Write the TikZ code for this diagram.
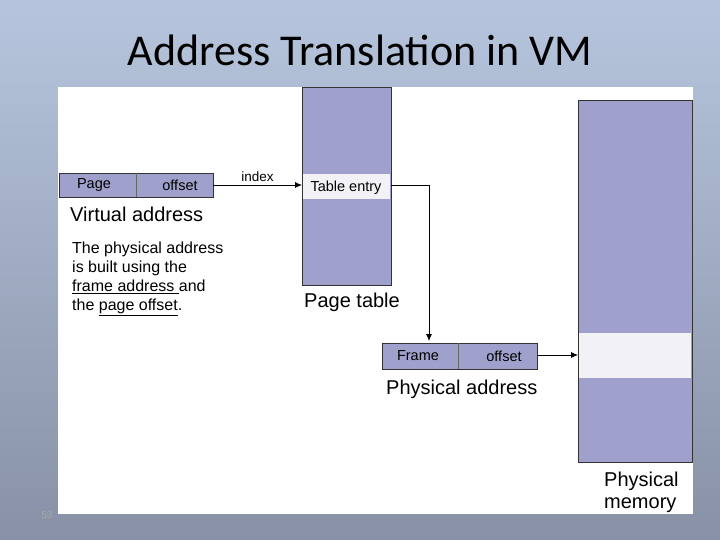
\documentclass[tikz,border=0pt]{standalone}
\usepackage{fontspec}
\setmainfont{Liberation Sans}
\newfontfamily\titlefont{Carlito}
\usepackage{tikz}
\usetikzlibrary{arrows.meta}
\definecolor{boxblue}{HTML}{A0A0CC}
\definecolor{bandwhite}{HTML}{F2F2F6}

\begin{document}
\begin{tikzpicture}[x=1pt,y=-1pt,
    field/.style={draw=black!80,fill=boxblue,line width=0.8pt},
    band/.style={fill=bandwhite},
    lbl/.style={inner sep=0pt,font=\fontsize{14.5}{14.5}\selectfont},
    caption/.style={inner sep=0pt,anchor=west,font=\fontsize{20}{20}\selectfont},
    arr/.style={draw,line width=0.8pt,-{Latex[length=7pt,width=6pt]}}]
    \shade[top color={rgb,255:red,182;green,197;blue,221},bottom color={rgb,255:red,136;green,145;blue,166}] (0,0) rectangle (720,540);
    \fill[white] (58,87) rectangle (693,514);
    \node[font=\titlefont\fontsize{44}{44}\selectfont] (title) at (360,50) {Address Translation in VM};
    \node[font=\fontsize{10}{10}\selectfont,text=gray!70] (slideno) at (47,515) {53};

    % virtual address
    \draw[field] (59,173) rectangle (213,197);
    \draw[black!60] (136,173) -- (136,197);
    \node[lbl] (vpage) at (94,185) {Page};
    \node[lbl] (voffset) at (180,185) {offset};
    \coordinate (vout) at (213,185);
    \node[caption] (vcap) at (70,214) {Virtual address};

    % page table
    \draw[field] (302,87) rectangle (391,285);
    \fill[band] (303,174) rectangle (390,199);
    \node[lbl] (entry) at (346,188) {Table entry};
    \coordinate (ptin) at (302,185);
    \coordinate (ptout) at (391,185);
    \node[caption] (ptcap) at (304,302) {Page table};

    % physical address
    \draw[field] (382,343) rectangle (537,369);
    \draw[black!60] (458,343) -- (458,369);
    \node[lbl] (pframe) at (418,356) {Frame};
    \node[lbl] (poffset) at (504,356) {offset};
    \coordinate (pain) at (429,341);
    \coordinate (paout) at (537,355);
    \node[caption] (pacap) at (386,389) {Physical address};

    % physical memory
    \draw[field] (578,100) rectangle (692,462);
    \fill[band] (579,333) rectangle (691,378);
    \coordinate (pmin) at (578,355);
    \node[font=\fontsize{20}{22}\selectfont,align=left,anchor=west,inner sep=0pt] (pmcap) at (604,492) {Physical\\memory};

    \draw[arr] (vout) -- node[above=3pt,lbl,font=\fontsize{13.5}{13.5}\selectfont] {index} (ptin);
    \draw[arr] (ptout) -| (pain);
    \draw[arr] (paout) -- (pmin);

    \node[font=\fontsize{16}{19}\selectfont,align=left,anchor=north west,inner sep=0pt] (note) at (72,242)
      {The physical address\\is built using the\\\underline{frame address }and\\the \underline{page offset}.};
\end{tikzpicture}
\end{document}
